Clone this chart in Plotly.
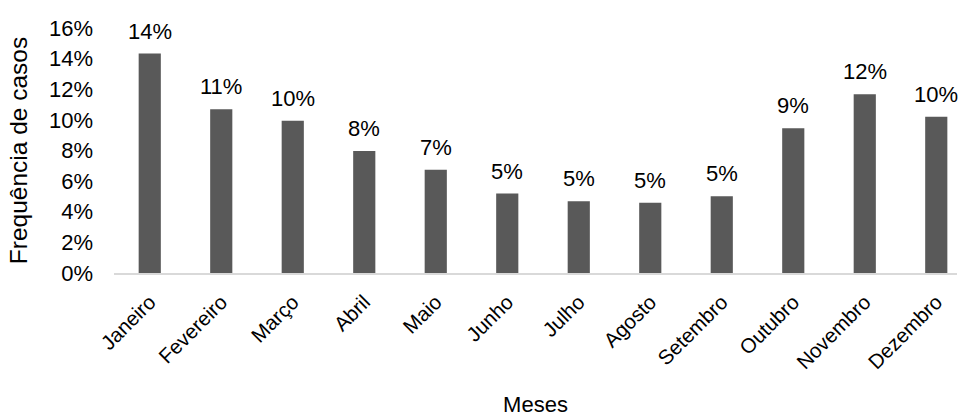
import plotly.graph_objects as go

meses = ["Janeiro", "Fevereiro", "Março", "Abril", "Maio", "Junho", "Julho",
         "Agosto", "Setembro", "Outubro", "Novembro", "Dezembro"]
frequencia = [0.1433, 0.1070, 0.0994, 0.0797, 0.0675, 0.0519, 0.0469,
              0.0458, 0.0502, 0.0945, 0.1168, 0.1020]

FONT = "Liberation Sans, Arial, sans-serif"

fig = go.Figure(go.Bar(
    x=meses, y=frequencia,
    marker=dict(color="#595959", line=dict(width=0)),
))

for m, v in zip(meses, frequencia):
    fig.add_annotation(
        x=m, y=v, text=f"{v:.0%}", showarrow=False,
        yanchor="bottom", yshift=8,
        font=dict(family=FONT, size=22, color="#000000"),
    )

fig.update_layout(
    width=960, height=417,
    margin=dict(l=114, r=3, t=28, b=144),
    paper_bgcolor="white", plot_bgcolor="white",
    bargap=0.69,
    showlegend=False,
    font=dict(family=FONT, color="#000000"),
    xaxis=dict(
        range=[-0.5, 11.29],
        automargin=False,
        tickangle=-45,
        tickfont=dict(family=FONT, size=20.5, color="#000000"),
        ticklabelstandoff=7,
        showline=True, linecolor="#d9d9d9", linewidth=2,
        showgrid=False, ticks="",
        title=dict(text="Meses", font=dict(family=FONT, size=22), standoff=37),
    ),
    yaxis=dict(
        range=[0, 0.16], dtick=0.02, tickformat=".0%",
        automargin=False,
        tickfont=dict(family=FONT, size=22, color="#000000"),
        showgrid=False, zeroline=False, showline=False, ticks="",
        ticklabelstandoff=20,
        title=dict(text="Frequência de casos", font=dict(family=FONT, size=24.5), standoff=14),
    ),
)

fig.write_html("out.html")
